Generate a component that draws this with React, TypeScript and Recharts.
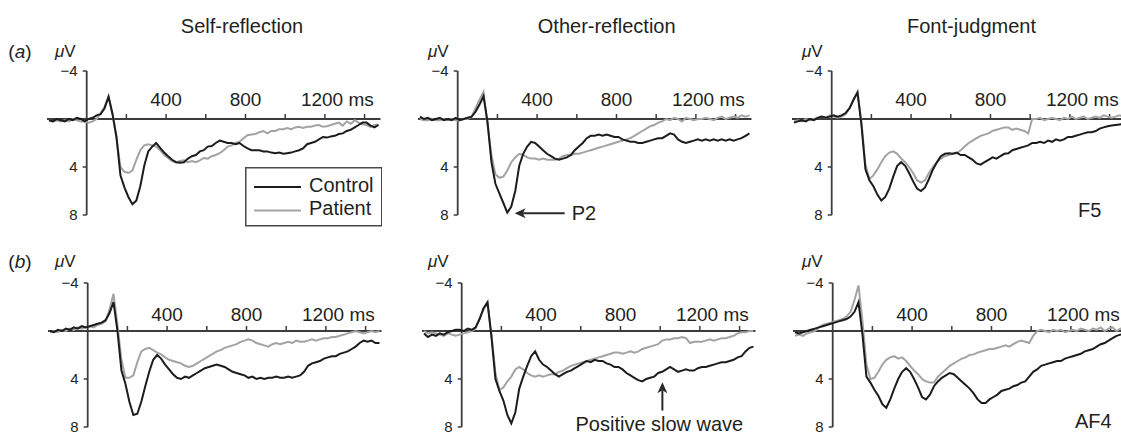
import { Legend, Line, LineChart, ReferenceLine, XAxis, YAxis } from "recharts";

// ERP grand averages, control vs patient. F5 (row a) and AF4 (row b).
// sample times in ms after onset, shared by every series
const TIMES = [
  -190, -170, -150, -130, -110, -90, -70, -50, -30, -10, 10, 30, 50, 70, 90, 110, 130, 150, 170, 190, 210,
  230, 250, 270, 290, 310, 330, 350, 370, 390, 410, 430, 450, 470, 490, 510, 530, 550, 570, 590, 610, 630,
  650, 670, 690, 710, 730, 750, 770, 790, 810, 830, 850, 870, 890, 910, 930, 950, 970, 990, 1010, 1030,
  1050, 1070, 1090, 1110, 1130, 1150, 1170, 1190, 1210, 1230, 1250, 1270, 1290, 1310, 1330, 1350, 1370,
  1390, 1410, 1430, 1450, 1470,
];

// µV, positive down (as plotted)
const SELF_A_CONTROL = [
  0.1, 0.2, 0.0, 0.1, 0.2, 0.0, 0.1, -0.1, 0.0, 0.2,
  0.0, -0.1, -0.3, -0.4, -0.9, -1.85, -0.4,
  1.5, 4.7, 5.7, 6.5, 7.1, 6.8, 5.6, 3.9, 2.7, 2.3, 2.0, 2.4, 2.8,
  3.1, 3.4, 3.6, 3.65, 3.6, 3.3, 3.1, 3.0, 2.7, 2.6,
  2.3, 2.25, 2.0, 1.8, 1.9, 2.0, 2.0, 2.1, 2.0, 2.25,
  2.45, 2.6, 2.6, 2.6, 2.7, 2.7, 2.8, 2.85, 2.8, 2.9,
  2.85, 2.8, 2.7, 2.6, 2.45, 2.1, 2.0, 1.9, 1.7, 1.5,
  1.55, 1.45, 1.4, 1.25, 1.2, 1.0, 0.9, 0.7, 0.5, 0.3,
  0.3, 0.55, 0.7, 0.5,
];
const SELF_A_PATIENT = [
  0.1, 0.2, 0.1, 0.2, 0.1, 0.2, 0.0, 0.1, 0.2, 0.2,
  0.3, 0.2, 0.0, -0.5, -1.0, -1.9, -0.5,
  1.6, 4.0, 4.4, 4.5, 4.3, 3.4, 2.6, 2.2, 2.1, 2.2, 2.3, 2.6, 3.0,
  3.25, 3.5, 3.6, 3.5, 3.45, 3.6, 3.5, 3.6, 3.45, 3.25,
  3.3, 3.1, 3.0, 2.85, 2.6, 2.3, 2.2, 2.0, 1.9, 1.6,
  1.35, 1.3, 1.25, 1.1, 1.0, 1.2, 1.0, 1.0, 0.85, 0.85,
  0.75, 0.85, 0.7, 0.65, 0.75, 0.65, 0.65, 0.55, 0.5, 0.65,
  0.6, 0.5, 0.4, 0.3, 0.55, 0.2, 0.4, 0.1, 0.3, 0.45,
  0.5, 0.65, 0.5, 0.45,
];

const OTHER_A_CONTROL = [
  -0.2, 0.0, -0.1, 0.1, 0.0, -0.1, 0.1, 0.0, 0.1, -0.1,
  0.1, 0.0, -0.1, -0.2, -0.6, -1.2, -1.9,
  0.2, 3.6, 5.4, 6.2, 7.0, 7.8, 7.3, 6.0, 3.9, 2.9, 2.3, 1.9, 2.0,
  2.3, 2.6, 2.9, 3.1, 3.3, 3.4, 3.3, 3.2, 3.0, 2.6,
  2.3, 2.0, 1.6, 1.4, 1.4, 1.3, 1.4,
  1.3, 1.4, 1.5, 1.5, 1.7, 1.8, 1.9, 1.9, 2.0, 2.0,
  1.9, 1.8, 1.7, 1.6, 1.6, 1.4, 1.2, 1.3, 1.7, 1.9,
  2.0, 1.9, 1.8, 1.7, 1.8, 1.7, 1.8, 1.7, 1.8, 1.7,
  1.8, 1.7, 1.8, 1.7, 1.6, 1.4, 1.2,
];
const OTHER_A_PATIENT = [
  0.0, 0.1, 0.1, 0.0, 0.1, 0.1, 0.0, 0.1, 0.0, 0.1,
  0.1, 0.0, 0.0, -0.2, -0.9, -1.6, -2.25,
  0.5, 3.0, 4.6, 4.9, 4.8, 4.3, 3.6, 3.2, 2.9, 3.0, 3.2, 3.3, 3.3,
  3.4, 3.3, 3.4, 3.4, 3.4, 3.3, 3.1, 3.0, 3.0, 2.9,
  2.9, 2.8, 2.7, 2.6, 2.5, 2.4, 2.3, 2.2, 2.1, 2.0,
  1.9, 1.8, 1.7, 1.6, 1.4, 1.2, 1.0, 0.8, 0.6, 0.5,
  0.3, 0.2, 0.0, 0.1, -0.1, 0.0, 0.2, -0.1, 0.0, 0.1,
  0.0, 0.0, -0.1, 0.0, 0.1, -0.1, -0.2, 0.0, -0.1, -0.2,
  -0.1, -0.3, -0.2, -0.3,
];

const FONT_A_CONTROL = [
  0.3, 0.2, 0.1, 0.2, 0.0, 0.1, -0.1, -0.2, -0.1, -0.2,
  -0.3, -0.2, -0.3, -0.5, -0.9, -1.6, -2.2,
  0.5, 4.2, 5.1, 5.6, 6.3, 6.8, 6.5, 5.8, 4.8, 3.9, 3.6, 3.9, 4.5,
  5.2, 5.8, 6.0, 5.7, 5.0, 4.2, 3.6, 3.1, 2.9, 2.85,
  2.9, 2.8, 3.0, 3.0, 3.2, 3.4, 3.7, 3.8, 3.6, 3.4,
  3.2, 3.3, 3.1, 2.9, 2.85, 2.6, 2.5, 2.4, 2.3, 2.2,
  2.0, 2.0, 1.9, 2.0, 1.8, 1.9, 1.7, 1.8, 1.7, 1.5,
  1.5, 1.4, 1.3, 1.2, 1.1, 1.1, 1.0, 0.8, 0.7, 0.6,
  0.55, 0.5, 0.45, 0.4,
];
const FONT_A_PATIENT = [
  0.2, 0.1, 0.2, 0.0, 0.1, 0.0, -0.1, -0.2, -0.1, -0.3,
  -0.2, -0.1, -0.2, -0.4, -0.9, -1.6, -2.3,
  0.3, 3.8, 5.0, 4.7, 4.2, 3.6, 3.1, 2.8, 2.7, 2.9, 3.3, 3.6, 4.0,
  4.5, 5.1, 5.3, 5.1, 4.5, 4.0, 3.6, 3.3, 3.1, 3.0,
  2.9, 2.85, 2.6, 2.3, 2.0, 1.8, 1.6, 1.4, 1.3, 1.2,
  1.0, 0.9, 0.8, 0.7, 0.7, 0.9, 0.8, 0.9, 1.0, 1.2,
  0.0, 0.0, -0.1, 0.1, 0.0, -0.1, 0.0, 0.1, -0.1, 0.0,
  -0.2, 0.0, -0.1, -0.2, 0.0, -0.1, -0.2, -0.1, -0.3, -0.2,
  -0.1, -0.2, -0.3, -0.2,
];

const SELF_B_CONTROL = [
  0.0, 0.1, -0.1, 0.0, -0.2, -0.1, -0.3, -0.2, -0.4, -0.3,
  -0.4, -0.5, -0.6, -0.7, -0.9, -1.5, -2.4,
  0.0, 3.3, 4.4, 5.9, 7.0, 6.9, 5.9, 4.6, 3.4, 2.4, 2.0, 2.3, 2.8,
  3.2, 3.6, 3.9, 4.0, 3.8, 3.9, 3.7, 3.5,
  3.3, 3.1, 3.0, 2.9, 2.8, 2.9, 3.0, 3.2, 3.4, 3.5,
  3.6, 3.7, 3.9, 3.8, 4.0, 3.9, 4.0, 3.9, 3.9, 3.8,
  3.9, 3.9, 3.8, 3.9, 3.8, 3.7, 3.4, 2.9, 2.7, 2.6,
  2.5, 2.3, 2.2, 2.1, 2.1, 1.9, 1.8, 1.7, 1.5, 1.3,
  1.0, 0.8, 0.9, 0.8, 1.0, 1.0,
];
const SELF_B_PATIENT = [
  0.1, 0.0, 0.1, -0.1, 0.0, -0.2, -0.1, -0.3, -0.2, -0.3,
  -0.4, -0.3, -0.5, -0.6, -0.8, -1.8, -3.1,
  -0.5, 2.4, 3.9, 3.9, 3.7, 2.6, 1.7, 1.5,
  1.4, 1.6, 1.8, 1.95, 2.2, 2.4, 2.5, 2.6, 2.7, 2.9,
  3.0, 2.9, 2.7, 2.5, 2.3, 2.1, 1.9, 1.7, 1.6, 1.4,
  1.3, 1.2, 1.1, 0.9, 0.8, 0.7, 0.8, 1.0, 1.1, 1.2,
  1.3, 1.1, 1.0, 1.1, 1.0, 0.9, 1.0, 0.8, 0.9, 0.9,
  0.8, 0.7, 0.8, 0.7, 0.6, 0.6, 0.5, 0.5, 0.4, 0.3,
  0.2, 0.1, 0.0, 0.1, 0.2, 0.1, 0.0, 0.1, 0.0,
];

const OTHER_B_CONTROL = [
  0.2, 0.5, 0.3, 0.4, 0.2, 0.3, 0.1, 0.0, -0.1, -0.1,
  0.0, -0.2, -0.1, -0.3, -1.0, -1.9, -2.4,
  0.5, 4.0, 5.0, 5.8, 7.0, 7.7, 6.8, 4.8, 3.8, 2.9, 2.1, 1.7, 2.4,
  2.8, 3.0, 3.3,
  3.6, 3.8, 3.6, 3.4, 3.3, 3.1, 2.9, 2.7, 2.5, 2.6,
  2.4, 2.5, 2.5, 2.7, 2.8, 3.0, 3.0, 3.2, 3.5, 3.7,
  3.9, 4.1, 4.2, 4.0, 3.9, 3.8, 3.5, 3.4, 3.2, 3.0,
  3.2, 3.4, 3.3, 3.2, 3.3, 3.3, 3.1, 3.0, 3.0, 2.9,
  2.8, 2.7, 2.6, 2.6, 2.5, 2.4, 2.2, 2.1, 1.7, 1.4,
  1.3,
];
const OTHER_B_PATIENT = [
  0.0, 0.2, 0.1, 0.2, 0.3, 0.4, 0.2, 0.3, 0.4, 0.3,
  0.2, 0.1, 0.0, -0.2, -1.0, -1.8, -2.3,
  0.3, 3.5, 4.9, 4.7, 4.2, 3.8,
  3.2, 3.0, 3.2, 3.5, 3.7, 3.8, 3.7, 3.8, 3.7, 3.6,
  3.6, 3.4, 3.3, 3.1, 2.9, 2.8, 2.7, 2.6, 2.5, 2.4,
  2.3, 2.2, 2.1, 2.0, 1.9, 1.8, 1.8, 1.9, 1.8, 1.7,
  1.8, 1.7, 1.5, 1.4, 1.3, 1.2, 1.1, 0.8, 0.7, 0.7,
  0.6, 0.6, 0.5, 0.6, 1.0, 0.9, 0.9, 0.9, 0.8, 0.7,
  0.8, 0.7, 0.6, 0.6, 0.5, 0.4, 0.2, 0.1, 0.1, 0.0,
  0.0,
];

const FONT_B_CONTROL = [
  0.1, 0.2, 0.1, 0.0, -0.1, -0.2, -0.3, -0.4, -0.5, -0.6,
  -0.7, -0.8, -0.9, -1.0, -1.2, -1.6, -2.4,
  0.3, 3.8, 4.3, 4.9, 5.4, 6.1, 6.4, 5.7, 4.8, 4.0,
  3.4, 3.1, 3.4, 4.0, 4.7, 5.5, 5.7, 5.3, 4.6, 4.2,
  3.9, 3.7, 3.5, 3.6, 3.9, 4.2, 4.5, 4.8, 5.2, 5.7,
  6.0,
  6.0, 5.7, 5.5, 5.3, 5.0, 4.9, 4.8, 4.6, 4.5, 4.3,
  4.2, 3.8, 3.4, 3.2, 2.9, 2.8, 2.7, 2.6, 2.5, 2.5,
  2.3, 2.2, 2.1, 2.0, 1.9, 1.7, 1.6, 1.5, 1.3, 1.1,
  1.0, 0.8, 0.6, 0.4, 0.3, 0.2,
];
const FONT_B_PATIENT = [
  0.4, 0.3, 0.4, 0.2, 0.1, 0.0, -0.3, -0.5, -0.6, -0.7,
  -0.8, -0.9, -1.0, -1.2, -1.6, -2.6, -3.8,
  -0.8, 2.8, 4.0, 3.9, 3.4, 2.8, 2.4, 2.2, 2.1, 2.3,
  2.2, 2.5, 2.9, 3.3, 3.6, 4.0, 4.2, 4.3, 4.3,
  3.8, 3.5, 3.2, 2.9, 2.7, 2.5, 2.3, 2.2, 2.0, 1.95,
  1.8, 1.7, 1.6, 1.5, 1.5, 1.4, 1.3, 1.2, 1.3, 1.1,
  0.9, 0.8, 0.9, 1.0, 0.4, 0.0,
  -0.1, 0.0, 0.1, -0.1, 0.0, -0.1, 0.1, 0.0, -0.1, 0.0,
  -0.2, -0.1, 0.0, -0.2, -0.1, -0.3, 0.0, -0.2, -0.3, 0.0,
  -0.2, -0.1,
];

const X_TICKS = [200, 400, 600, 800, 1000, 1200, 1400];
const X_LABELED = [400, 800, 1200];
const Y_TICKS = [-4, 4, 8];
const SERIES_NAMES = ["Control", "Patient"];
const TITLES = ["Self-reflection", "Other-reflection", "Font-judgment"];
const ROW_TAGS = ["a", "b"];
const ELECTRODES = ["F5", "AF4"];

// arrow annotations, data coords (ms, µV): tail first, then tip
const P2_ARROW = [
  { x: 539, y: 7.85 },
  { x: 287, y: 7.85 },
];
const SLOW_WAVE_ARROW = [
  { x: 1011, y: 6.63 },
  { x: 1011, y: 4.27 },
];

// ---- look & layout ----
const FONT = '"Liberation Sans", Arial, Helvetica, sans-serif';
const INK = "#231f20";
const AXIS = "#3c3c3c";
const CONTROL_COLOR = "#1c1c1c";
const PATIENT_COLOR = "#a3a3a3";

const T_MIN = -200;
const T_MAX = 1480;
const V_MIN = -4;
const V_MAX = 8;
const PX_PER_MS = 0.1985;
const PX_PER_UV = 12;
const PLOT_W = (T_MAX - T_MIN) * PX_PER_MS;
const PLOT_H = (V_MAX - V_MIN) * PX_PER_UV;
const M = { top: 16, right: 16, bottom: 22, left: 16 };
const TICK_UP = 5 / PX_PER_UV;
const Y_TICK_LEN = 4 / PX_PER_MS;

const LEGEND_BOX = { x: 245, y: 167.3, w: 137.5, h: 59.5 };

const PANELS = [
  { key: "self-a", x0: 87, y0: 118.5, lift: 12.5, control: SELF_A_CONTROL, patient: SELF_A_PATIENT, legend: true },
  {
    key: "other-a", x0: 458, y0: 118.5, lift: 12.5, control: OTHER_A_CONTROL, patient: OTHER_A_PATIENT,
    arrow: { points: P2_ARROW, text: "P2", place: "right" },
  },
  { key: "font-a", x0: 832, y0: 118.5, lift: 12.5, control: FONT_A_CONTROL, patient: FONT_A_PATIENT },
  { key: "self-b", x0: 88, y0: 330.5, lift: 10, control: SELF_B_CONTROL, patient: SELF_B_PATIENT },
  {
    key: "other-b", x0: 462, y0: 330.5, lift: 10, control: OTHER_B_CONTROL, patient: OTHER_B_PATIENT,
    arrow: { points: SLOW_WAVE_ARROW, text: "Positive slow wave", place: "below" },
  },
  { key: "font-b", x0: 833, y0: 330.5, lift: 10, control: FONT_B_CONTROL, patient: FONT_B_PATIENT },
];

const TITLE_X = [242, 606.7, 971.5];
const TITLE_BASE = 33.3;
const MICRO_X = [55, 428, 802];
const MICRO_BASE = [56.7, 266.7];
const TAG_BASE = [58, 268];
const ELECTRODE_POS = [
  { x: 1078, y: 216.7 },
  { x: 1075, y: 428.3 },
];

const xTickLabel = (t: number, lift: number) => (props: any) => {
  const vb = props.viewBox || {};
  const axisY = vb.y + vb.height;
  const last = t === X_LABELED[X_LABELED.length - 1];
  return (
    <text
      x={last ? vb.x - 24 : vb.x}
      y={axisY - lift}
      textAnchor={last ? "start" : "middle"}
      fontSize={19}
      fontFamily={FONT}
      fill={INK}
    >
      {last ? `${t} ms` : `${t}`}
    </text>
  );
};

const yTickLabel = (v: number) => (props: any) => {
  const vb = props.viewBox || {};
  return (
    <text x={vb.x - 5} y={vb.y + 5.3} textAnchor="end" fontSize={15} fontFamily={FONT} fill={INK}>
      {v < 0 ? `\u2212${-v}` : `${v}`}
    </text>
  );
};

const arrowShape = (text: string, place: string) => (props: any) => {
  const { x1, y1, x2, y2 } = props;
  if (x1 == null || y1 == null) return <g />;
  const dx = x2 - x1;
  const dy = y2 - y1;
  const len = Math.hypot(dx, dy) || 1;
  const ux = dx / len;
  const uy = dy / len;
  const hl = 11;
  const hw = 5;
  const bx = x2 - ux * hl;
  const by = y2 - uy * hl;
  const px = -uy;
  const py = ux;
  const head = `M${bx + px * hw},${by + py * hw} L${x2},${y2} L${bx - px * hw},${by - py * hw} L${bx + ux * 3},${by + uy * 3} Z`;
  return (
    <g>
      <line x1={x1} y1={y1} x2={bx + ux * 3} y2={by + uy * 3} stroke="#2a2a2a" strokeWidth={2} />
      <path d={head} fill="#2a2a2a" />
      {place === "right" ? (
        <text x={x1 + 7} y={y1 + 6.5} fontSize={20} fontFamily={FONT} fill={INK}>
          {text}
        </text>
      ) : (
        <text x={x1 - 3} y={y1 + 20} textAnchor="middle" fontSize={20} fontFamily={FONT} fill={INK}>
          {text}
        </text>
      )}
    </g>
  );
};

function renderLegend(props: any) {
  const items = [...(props.payload || [])].sort(
    (a: any, b: any) => SERIES_NAMES.indexOf(a.value) - SERIES_NAMES.indexOf(b.value),
  );
  return (
    <svg width={LEGEND_BOX.w} height={LEGEND_BOX.h} style={{ display: "block" }}>
      <rect
        x={0.75}
        y={0.75}
        width={LEGEND_BOX.w - 1.5}
        height={LEGEND_BOX.h - 1.5}
        fill="#fff"
        stroke="#4a4a4a"
        strokeWidth={1.5}
      />
      {items.map((it: any, i: number) => (
        <g key={it.value}>
          <line x1={9} x2={56} y1={20 + i * 23.4} y2={20 + i * 23.4} stroke={it.color} strokeWidth={2} />
          <text x={64} y={24.6 + i * 23.4} fontSize={20} fontFamily={FONT} fill={INK}>
            {it.value}
          </text>
        </g>
      ))}
    </svg>
  );
}

function ErpPanel({ spec }: { spec: any }) {
  const rows = TIMES.map((t, i) => ({ t, control: spec.control[i], patient: spec.patient[i] }));
  const left = spec.x0 + T_MIN * PX_PER_MS - M.left;
  const top = spec.y0 + V_MIN * PX_PER_UV - M.top;

  return (
    <div style={{ position: "absolute", left, top }}>
      <LineChart width={PLOT_W + M.left + M.right} height={PLOT_H + M.top + M.bottom} data={rows} margin={M}>
        <XAxis type="number" dataKey="t" domain={[T_MIN, T_MAX]} allowDataOverflow hide />
        <YAxis type="number" domain={[V_MIN, V_MAX]} reversed allowDataOverflow hide />
        <ReferenceLine y={0} stroke={AXIS} strokeWidth={1.8} />
        <ReferenceLine x={0} stroke={AXIS} strokeWidth={1.8} />
        {X_TICKS.map((t) => (
          <ReferenceLine
            key={`xt${t}`}
            segment={[
              { x: t, y: 0 },
              { x: t, y: -TICK_UP },
            ]}
            stroke={AXIS}
            strokeWidth={1.5}
            label={X_LABELED.includes(t) ? xTickLabel(t, spec.lift) : undefined}
          />
        ))}
        {Y_TICKS.map((v) => (
          <ReferenceLine
            key={`yt${v}`}
            segment={[
              { x: -Y_TICK_LEN, y: v },
              { x: 0, y: v },
            ]}
            stroke={AXIS}
            strokeWidth={1.5}
            label={yTickLabel(v)}
          />
        ))}
        <Line
          type="linear"
          dataKey="patient"
          name="Patient"
          stroke={PATIENT_COLOR}
          strokeWidth={2}
          dot={false}
          activeDot={false}
          isAnimationActive={false}
        />
        <Line
          type="linear"
          dataKey="control"
          name="Control"
          stroke={CONTROL_COLOR}
          strokeWidth={2}
          dot={false}
          activeDot={false}
          isAnimationActive={false}
        />
        {spec.arrow && (
          <ReferenceLine segment={spec.arrow.points} shape={arrowShape(spec.arrow.text, spec.arrow.place)} />
        )}
        {spec.legend && (
          <Legend
            layout="vertical"
            align="center"
            verticalAlign="middle"
            content={renderLegend}
            wrapperStyle={{
              left: LEGEND_BOX.x - left,
              top: LEGEND_BOX.y - top,
              width: LEGEND_BOX.w,
              height: LEGEND_BOX.h,
            }}
          />
        )}
      </LineChart>
    </div>
  );
}

export default function App() {
  return (
    <div
      style={{
        position: "relative",
        width: 1121,
        height: 435,
        overflow: "hidden",
        background: "#fff",
        fontFamily: FONT,
        color: INK,
      }}
    >
      <style>{"body{margin:0}"}</style>
      {PANELS.map((p) => (
        <ErpPanel key={p.key} spec={p} />
      ))}
      <svg
        width={1121}
        height={435}
        style={{ position: "absolute", left: 0, top: 0, pointerEvents: "none" }}
        fontFamily={FONT}
        fill={INK}
      >
        {TITLES.map((t, i) => (
          <text key={t} x={TITLE_X[i]} y={TITLE_BASE} textAnchor="middle" fontSize={20}>
            {t}
          </text>
        ))}
        {ROW_TAGS.map((tag, r) => (
          <text key={tag} x={8.3} y={TAG_BASE[r]} fontSize={19}>
            (<tspan fontStyle="italic">{tag}</tspan>)
          </text>
        ))}
        {MICRO_BASE.map((yb, r) =>
          MICRO_X.map((x) => (
            <text key={`${r}-${x}`} x={x} y={yb} fontSize={17}>
              <tspan fontStyle="italic">{"\u03bc"}</tspan>V
            </text>
          )),
        )}
        {ELECTRODES.map((e, r) => (
          <text key={e} x={ELECTRODE_POS[r].x} y={ELECTRODE_POS[r].y} fontSize={20}>
            {e}
          </text>
        ))}
      </svg>
    </div>
  );
}
